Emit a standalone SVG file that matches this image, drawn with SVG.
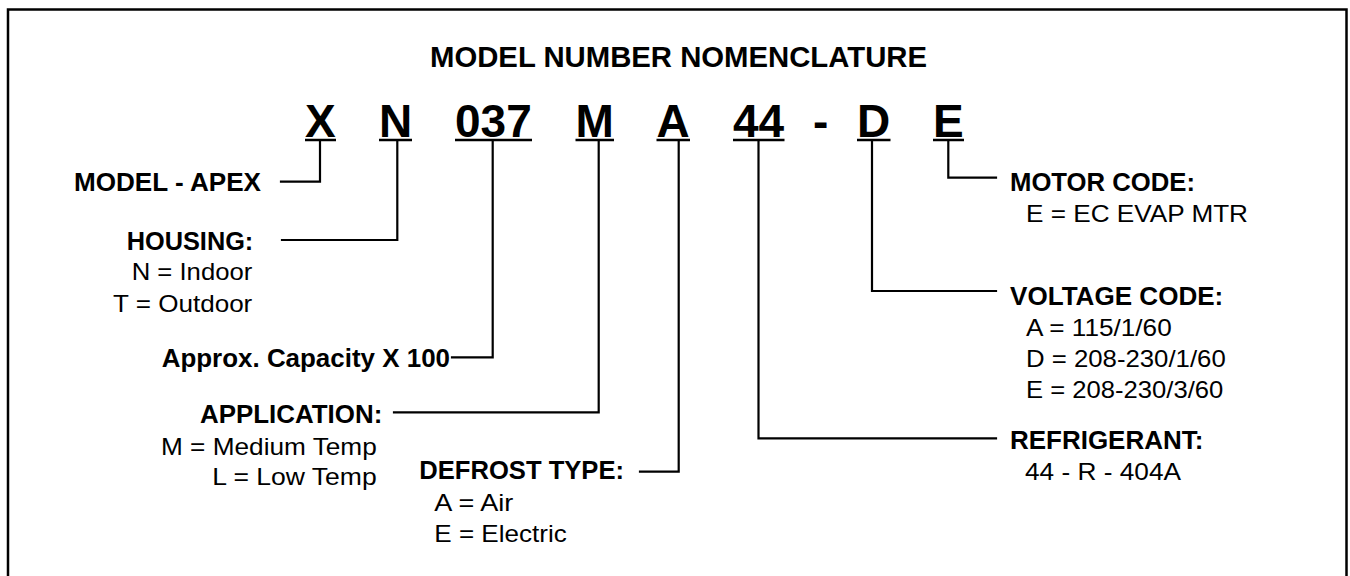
<svg xmlns="http://www.w3.org/2000/svg" width="1350" height="576" viewBox="0 0 1350 576">
<style>
text{font-family:"Liberation Sans",Arial,Helvetica,sans-serif;fill:#000}
.b{font-weight:bold;font-size:25px}
.r{font-size:24px}
.t{font-weight:bold;font-size:29px}
.big{font-weight:bold;font-size:46px}
.ul{stroke:#000;stroke-width:2.5;fill:none}
.c{stroke:#000;stroke-width:2.2;fill:none;stroke-linecap:square;stroke-linejoin:miter}
</style>
<rect x="0" y="0" width="1350" height="576" fill="#fff"/>
<rect id="frame" x="8" y="9.5" width="1338.5" height="600" fill="none" stroke="#000" stroke-width="2.5"/>
<g id="title"><text class="t" x="430" y="67.3" textLength="497" lengthAdjust="spacingAndGlyphs">MODEL NUMBER NOMENCLATURE</text></g>
<g id="code">
<g id="seg-X"><text class="big" x="305" y="137">X</text><line class="ul" x1="305" y1="140" x2="336" y2="140"/></g>
<g id="seg-N"><text class="big" x="379" y="137">N</text><line class="ul" x1="379" y1="140" x2="412" y2="140"/></g>
<g id="seg-037"><text class="big" x="455" y="137">037</text><line class="ul" x1="455" y1="140" x2="532" y2="140"/></g>
<g id="seg-M"><text class="big" x="575.5" y="137">M</text><line class="ul" x1="575.5" y1="140" x2="614" y2="140"/></g>
<g id="seg-A"><text class="big" x="656.5" y="137">A</text><line class="ul" x1="656.5" y1="140" x2="690" y2="140"/></g>
<g id="seg-44"><text class="big" x="733" y="137">44</text><line class="ul" x1="733" y1="140" x2="784.5" y2="140"/></g>
<g id="seg-dash"><text class="big" x="813" y="137">-</text></g>
<g id="seg-D"><text class="big" x="857" y="137">D</text><line class="ul" x1="857" y1="140" x2="890.5" y2="140"/></g>
<g id="seg-E"><text class="big" x="933" y="137">E</text><line class="ul" x1="933" y1="140" x2="964" y2="140"/></g>
</g>
<g id="connectors">
<polyline class="c" points="320,141 320,181.7 281,181.7"/>
<polyline class="c" points="397.3,141 397.3,240 282,240"/>
<polyline class="c" points="492.7,141 492.7,357.3 452,357.3"/>
<polyline class="c" points="598.7,141 598.7,412.3 394,412.3"/>
<polyline class="c" points="678.7,141 678.7,471.7 640,471.7"/>
<polyline class="c" points="758.5,141 758.5,438.3 996,438.3"/>
<polyline class="c" points="872,141 872,291 996,291"/>
<polyline class="c" points="948.3,141 948.3,177.7 996,177.7"/>
</g>
<g id="model"><text class="b" x="74" y="190.7" textLength="187" lengthAdjust="spacingAndGlyphs">MODEL - APEX</text></g>
<g id="housing">
<text class="b" x="126.7" y="250" textLength="126.6" lengthAdjust="spacingAndGlyphs">HOUSING:</text>
<text class="r" x="131.7" y="280" textLength="120.6" lengthAdjust="spacingAndGlyphs">N = Indoor</text>
<text class="r" x="113" y="311.7" textLength="139.3" lengthAdjust="spacingAndGlyphs">T = Outdoor</text>
</g>
<g id="capacity"><text class="b" x="161.7" y="367.3" textLength="288.3" lengthAdjust="spacingAndGlyphs">Approx. Capacity X 100</text></g>
<g id="application">
<text class="b" x="200" y="423.3" textLength="182.3" lengthAdjust="spacingAndGlyphs">APPLICATION:</text>
<text class="r" x="161" y="455" textLength="215.7" lengthAdjust="spacingAndGlyphs">M = Medium Temp</text>
<text class="r" x="212.3" y="485" textLength="164.4" lengthAdjust="spacingAndGlyphs">L = Low Temp</text>
</g>
<g id="defrost">
<text class="b" x="419.3" y="479.3" textLength="204.7" lengthAdjust="spacingAndGlyphs">DEFROST TYPE:</text>
<text class="r" x="434.3" y="510.7" textLength="79" lengthAdjust="spacingAndGlyphs">A = Air</text>
<text class="r" x="434.3" y="541.7" textLength="132.4" lengthAdjust="spacingAndGlyphs">E = Electric</text>
</g>
<g id="motor">
<text class="b" x="1010" y="191" textLength="185" lengthAdjust="spacingAndGlyphs">MOTOR CODE:</text>
<text class="r" x="1026" y="221.7" textLength="222" lengthAdjust="spacingAndGlyphs">E = EC EVAP MTR</text>
</g>
<g id="voltage">
<text class="b" x="1010" y="305" textLength="213.3" lengthAdjust="spacingAndGlyphs">VOLTAGE CODE:</text>
<text class="r" x="1026" y="335.7" textLength="145.7" lengthAdjust="spacingAndGlyphs">A = 115/1/60</text>
<text class="r" x="1026" y="366.7" textLength="199.7" lengthAdjust="spacingAndGlyphs">D = 208-230/1/60</text>
<text class="r" x="1026" y="397.7" textLength="197.3" lengthAdjust="spacingAndGlyphs">E = 208-230/3/60</text>
</g>
<g id="refrigerant">
<text class="b" x="1010" y="449.3" textLength="193.3" lengthAdjust="spacingAndGlyphs">REFRIGERANT:</text>
<text class="r" x="1025" y="480" textLength="156" lengthAdjust="spacingAndGlyphs">44 - R - 404A</text>
</g>
</svg>
